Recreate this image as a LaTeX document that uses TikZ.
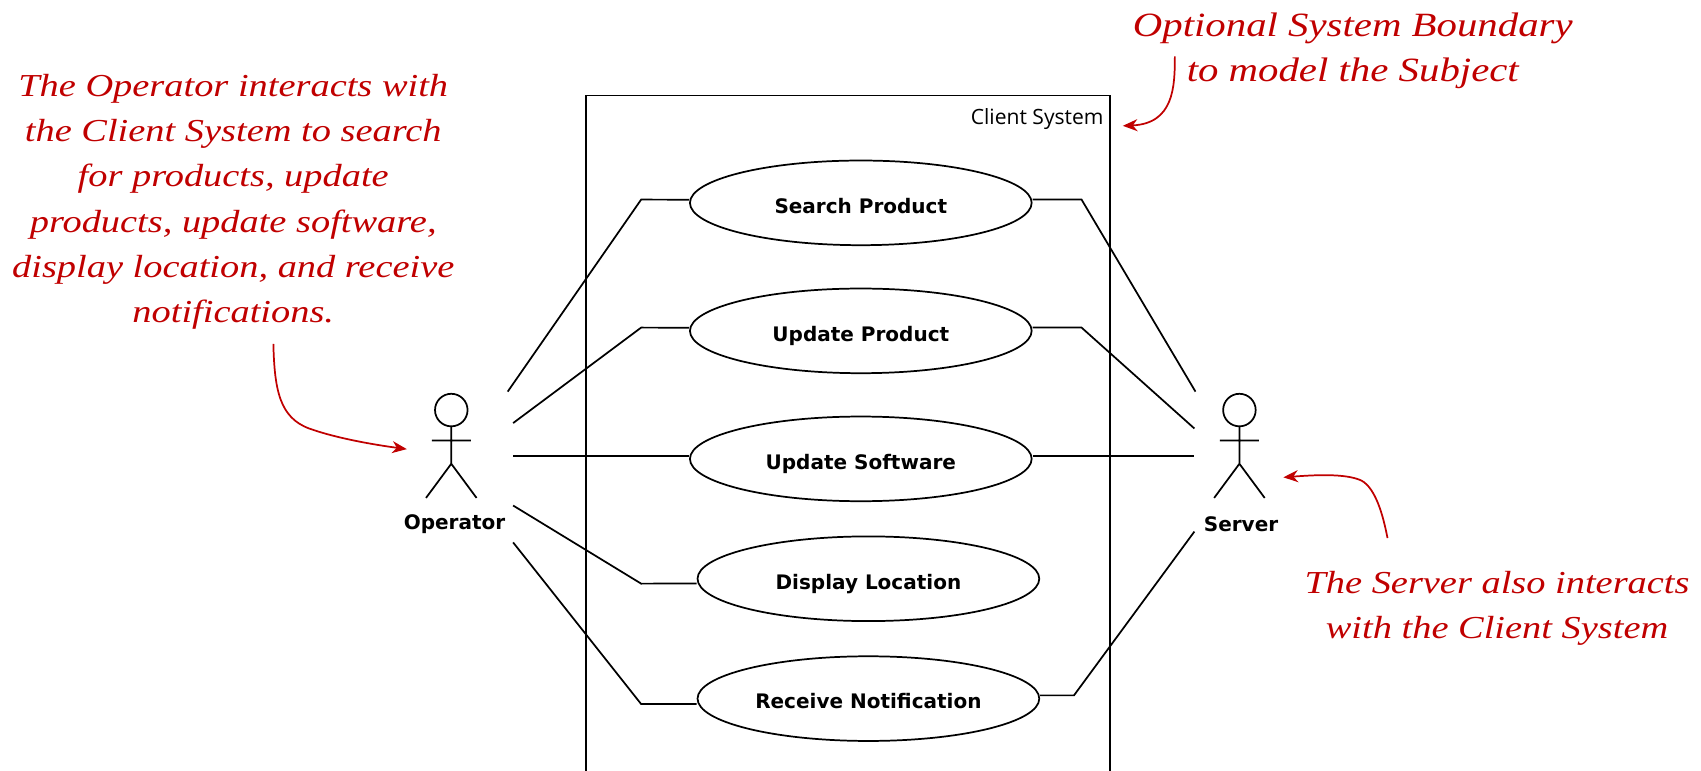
\documentclass[tikz,border=0pt]{standalone}
\usepackage{fontspec}
\setmainfont{DejaVu Sans}
\newfontfamily\boundfont{Open Sans}
\newfontfamily\handfont[FakeStretch=1.2]{Liberation Serif Italic}
\usetikzlibrary{arrows.meta,shapes.geometric}
\definecolor{notered}{HTML}{C00000}
\tikzset{
  x=0.8136pt,y=-0.8136pt,
  ink/.style={draw=black,line width=1.3pt},
  assoc/.style={ink},
  ucase/.style={ellipse,ink,minimum width=256.3pt,minimum height=63.5pt,inner sep=0pt,
    font=\fontsize{15}{17}\selectfont\bfseries,text height=15.5pt,text depth=0pt},
  actorname/.style={font=\fontsize{15}{17}\selectfont\bfseries,inner sep=0pt},
  note/.style={text=notered,align=center,inner sep=0pt,font=\handfont\fontsize{24}{33.8}\selectfont},
  notearrow/.style={draw=notered,line width=1.3pt,-{Stealth[length=11pt,width=9pt,inset=3.5pt]}},
}
\newcommand{\actorfig}[1]{%
  \begin{scope}[shift={(#1)}]
    \draw[ink] (0,0) circle[radius=15];
    \draw[ink] (0,15) -- (0,49.5) (-18,28) -- (18,28) (-23.3,81) -- (0,49.5) -- (23.3,81);
  \end{scope}}
\begin{document}
\begin{tikzpicture}
\useasboundingbox (0,0) rectangle (1568,710.7);
% system boundary
\begin{scope}
  \clip (0,0) rectangle (1568,710.7);
  \draw[ink] (540,720) -- (540,88) -- (1023,88) -- (1023,720);
\end{scope}
\node[anchor=east,inner sep=0pt,font=\boundfont\fontsize{15.8}{18}\selectfont] (sysname) at (1017.5,110) {Client System};
% use cases
\node[ucase] (search)  at (793.5,187) {Search Product};
\node[ucase] (updprod) at (793.5,305) {Update Product};
\node[ucase] (updsoft) at (793.5,423) {Update Software};
\node[ucase] (display) at (800.5,533.5) {Display Location};
\node[ucase] (receive) at (800.5,644) {Receive Notification};
% actors
\actorfig{416,378}
\actorfig{1142.5,378}
\node[actorname] (operator) at (419,483) {Operator};
\node[actorname] (server)   at (1144,483) {Server};
% connector free ends
\coordinate (opA) at (468,361);
\coordinate (opB) at (473,390);
\coordinate (opC) at (473,420.3);
\coordinate (opD) at (473,466);
\coordinate (opE) at (473,500);
\coordinate (srA) at (1102,361);
\coordinate (srB) at (1101,395);
\coordinate (srC) at (1101,420.3);
\coordinate (srE) at (1101,490);
% associations
\draw[assoc] (opA) -- (591,184) -- ([yshift=2.4pt]search.west);
\draw[assoc] (opB) -- (591,302) -- ([yshift=2.4pt]updprod.west);
\draw[assoc] (opC) -- (opC -| updsoft.west);
\draw[assoc] (opD) -- (591,538) -- ([yshift=-3.6pt]display.west);
\draw[assoc] (opE) -- (591,649) -- ([yshift=-4pt]receive.west);
\draw[assoc] (search.east |- 951,184) -- (997,184) -- (srA);
\draw[assoc] (updprod.east |- 951,302) -- (997,302) -- (srB);
\draw[assoc] (srC -| updsoft.east) -- (srC);
\draw[assoc] (receive.east |- 957,641) -- (990,641) -- (srE);
% notes
\node[note] (noteop) at (215,186) {The Operator interacts with\\the Client System to search\\for products, update\\products, update software,\\display location, and receive\\notifications.};
\node[note,font=\handfont\fontsize{25.5}{33.8}\selectfont] (notesys) at (1247,47) {Optional System Boundary\\to model the Subject};
\node[note] (notesrv) at (1380,560.5) {The Server also interacts\\with the Client System};
\coordinate (opstart) at (252,317);
\coordinate (opend) at (375,414);
\coordinate (sysstart) at (1083,52);
\coordinate (sysend) at (1035,116);
\coordinate (srvstart) at (1279,496);
\coordinate (srvend) at (1183,440);
\draw[notearrow] (opstart) .. controls (253,360) and (258,385) .. (285,395) .. controls (310,404) and (345,410) .. (opend);
\draw[notearrow] (sysstart) .. controls (1083,80) and (1082,114) .. (sysend);
\draw[notearrow] (srvstart) .. controls (1275,475) and (1268,450) .. (1255,443) .. controls (1240,436) and (1210,438) .. (srvend);
\end{tikzpicture}
\end{document}
